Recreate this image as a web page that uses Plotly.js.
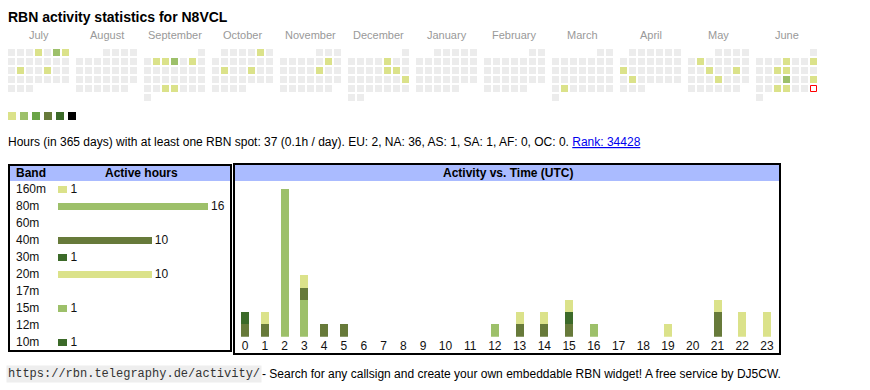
<!DOCTYPE html>
<html><head><meta charset="utf-8">
<script src="https://cdn.plot.ly/plotly-3.0.1.min.js"></script>
<style>html,body{margin:0;padding:0;background:#fff}#chart{width:870px;height:390px}</style>
</head><body><div id="chart"></div>
<script>
// ---------------- data ----------------
const callsign = 'N8VCL';
const monthNames = ['July','August','September','October','November','December','January','February','March','April','May','June'];
const calendarStart = '2024-07-01';
const calendarEnd = '2025-06-30';
const todayDate = '2025-06-29';
const activeDays = ['2024-07-04','2024-07-06','2024-07-07','2024-07-16','2024-07-19',
  '2024-09-03','2024-09-04','2024-09-05','2024-09-07','2024-09-25','2024-09-26',
  '2024-10-05','2024-10-15','2024-10-18',
  '2024-11-09','2024-11-15',
  '2024-12-06','2024-12-13','2024-12-14','2024-12-22',
  '2025-03-25',
  '2025-04-14','2025-04-22',
  '2025-05-06','2025-05-14','2025-05-17','2025-05-22',
  '2025-06-05','2025-06-08','2025-06-11','2025-06-12','2025-06-19','2025-06-22','2025-06-25','2025-06-26'];
const activeLevels = [1,2,1,1,1, 1,1,2,1,1,1, 1,1,1, 1,1, 1,1,1,1, 1, 1,1, 1,1,1,1, 1,1,1,1,2,1,1,1];
const levelColors = ['#ececec','#dbe28a','#9dc06a','#6aa446','#677a3a','#3c6a29','#000000'];

const bands = ['160m','80m','60m','40m','30m','20m','17m','15m','12m','10m'];
const bandHours = [1,16,0,10,1,10,0,1,0,1];
const bandColors = ['#dbe28a','#9dc06a','#9dc06a','#677a3a','#3c6a29','#dbe28a','#dbe28a','#9dc06a','#9dc06a','#3c6a29'];

const hoursUTC = ['0','1','2','3','4','5','6','7','8','9','10','11','12','13','14','15','16','17','18','19','20','21','22','23'];
const hourly160m = [0,0,0,0,0,0,0,0,0,0,0,0,0,0,0,0,0,0,0,0,0,0,1,0];
const hourly80m  = [0,0,12,3,0,0,0,0,0,0,0,0,1,0,0,0,0,0,0,0,0,0,0,0];
const hourly40m  = [1,1,0,1,1,1,0,0,0,0,0,0,0,1,1,1,0,0,0,0,0,2,0,0];
const hourly30m  = [0,0,0,0,0,0,0,0,0,0,0,0,0,0,0,1,0,0,0,0,0,0,0,0];
const hourly20m  = [0,1,0,1,0,0,0,0,0,0,0,0,0,1,1,1,0,0,0,1,0,1,1,2];
const hourly15m  = [0,0,0,0,0,0,0,0,0,0,0,0,0,0,0,0,1,0,0,0,0,0,0,0];
const hourly10m  = [1,0,0,0,0,0,0,0,0,0,0,0,0,0,0,0,0,0,0,0,0,0,0,0];

const statsText = 'Hours (in 365 days) with at least one RBN spot: 37 (0.1h / day). EU: 2, NA: 36, AS: 1, SA: 1, AF: 0, OC: 0. ';
const rankText = 'Rank: 34428';
const footerUrl = 'https://rbn.telegraphy.de/activity/';
const footerText = '- Search for any callsign and create your own embeddable RBN widget! A free service by DJ5CW.';

// ---------------- layout helpers ----------------
const W = 870, H = 390;
const px = x => x / W, py = y => 1 - y / H;
const FONT = 'Liberation Sans, Arial, sans-serif';
const PADL = 2; // annotation inner padding compensation

// ---------------- calendar ----------------
function parseD(s){const a=s.split('-').map(Number);return Date.UTC(a[0],a[1]-1,a[2]);}
function keyOf(dt){return dt.toISOString().slice(0,10);}
const cellPx = 9, blockPx = 68;
const blockPitch = blockPx / cellPx;
const levelByDay = {};
activeDays.forEach((d,i)=>{levelByDay[d]=activeLevels[i];});
const t0 = parseD(calendarStart), t1 = parseD(calendarEnd);
const startDt = new Date(t0);
const calX=[], calY=[], calC=[];
let todayX=null, todayY=null;
for(let t=t0;t<=t1;t+=86400000){
  const dt=new Date(t);
  const y=dt.getUTCFullYear(), mo=dt.getUTCMonth(), d=dt.getUTCDate();
  const mIdx=(y-startDt.getUTCFullYear())*12+mo-startDt.getUTCMonth();
  const wd=(dt.getUTCDay()+6)%7;
  const firstWd=(new Date(Date.UTC(y,mo,1)).getUTCDay()+6)%7;
  const row=Math.floor((d-1+firstWd)/7);
  const k=keyOf(dt);
  const cx=mIdx*blockPitch+wd;
  if(k===todayDate){todayX=cx;todayY=row;continue;}
  calX.push(cx); calY.push(row); calC.push(levelColors[levelByDay[k]||0]);
}
const calTrace={type:'scatter',mode:'markers',x:calX,y:calY,xaxis:'x',yaxis:'y',
  marker:{symbol:'square',size:7,color:calC,line:{width:0}},hoverinfo:'skip'};
const todayTrace={type:'scatter',mode:'markers',x:[todayX],y:[todayY],xaxis:'x',yaxis:'y',
  marker:{symbol:'square',size:6,color:'#ffffff',line:{width:1,color:'#ff0000'}},hoverinfo:'skip'};
// colour scale swatches
const swX = levelColors.slice(1).map((c,i)=>(12+12*i-11.5)/cellPx);
const swY = levelColors.slice(1).map(()=> (116-52.5)/cellPx);
const swatchTrace={type:'scatter',mode:'markers',x:swX,y:swY,xaxis:'x',yaxis:'y',
  marker:{symbol:'square',size:8,color:levelColors.slice(1),line:{width:0}},hoverinfo:'skip'};

// ---------------- band table ----------------
const bandTrace={type:'bar',orientation:'h',x:bandHours,y:bands,xaxis:'x2',yaxis:'y2',
  width:7/17,marker:{color:bandColors,line:{width:0}},
  text:bandHours.map(v=>v?String(v):''),textposition:'outside',constraintext:'none',
  textfont:{family:FONT,size:12,color:'#111'},cliponaxis:false,hoverinfo:'skip'};

// ---------------- activity vs time ----------------
const colW = hoursUTC.map(l=>l.length===1?20:25);
const hourX=[]; let acc=0;
colW.forEach(w=>{hourX.push(acc+w/2);acc+=w;});
const s3=(767-245)/(hourX[23]-hourX[0]);
const x3range=[hourX[0]-(245-236)/s3, hourX[0]+(779-245)/s3];
const barW=8/s3;
const hourSeries=[[hourly160m,'#dbe28a'],[hourly80m,'#9dc06a'],[hourly40m,'#677a3a'],[hourly30m,'#3c6a29'],
  [hourly20m,'#dbe28a'],[hourly15m,'#9dc06a'],[hourly10m,'#3c6a29']];
const hourTraces=hourSeries.map(([arr,col])=>({type:'bar',x:hourX,y:arr,xaxis:'x3',yaxis:'y3',width:barW,
  marker:{color:col,line:{width:0}},hoverinfo:'skip'}));

// ---------------- annotations ----------------
const ann=[];
ann.push({text:'<b>RBN activity statistics for '+callsign+'</b>',x:px(8-PADL),y:py(17),xref:'paper',yref:'paper',
  xanchor:'left',yanchor:'middle',showarrow:false,font:{family:FONT,size:14,color:'#000'}});
monthNames.forEach((m,i)=>ann.push({text:m,x:i*blockPitch+3,y:py(35),xref:'x',yref:'paper',xanchor:'center',yanchor:'middle',
  showarrow:false,font:{family:FONT,size:11,color:'#999'}}));
ann.push({text:statsText+'<a href="https://rbn.telegraphy.de/activity/'+callsign+'"><span style="color:#0000ee"><u>'+rankText+'</u></span></a>',
  x:px(8-PADL),y:py(142),xref:'paper',yref:'paper',xanchor:'left',yanchor:'middle',showarrow:false,font:{family:FONT,size:12,color:'#000'}});
ann.push({text:'<b>Band</b>',x:px(16-PADL),y:py(173),xref:'paper',yref:'paper',xanchor:'left',yanchor:'middle',showarrow:false,font:{family:FONT,size:12,color:'#000'}});
ann.push({text:'<b>Active hours</b>',x:px(141.5),y:py(173),xref:'paper',yref:'paper',xanchor:'center',yanchor:'middle',showarrow:false,font:{family:FONT,size:12,color:'#000'}});
ann.push({text:'<b>Activity vs. Time (UTC)</b>',x:px(508),y:py(173),xref:'paper',yref:'paper',xanchor:'center',yanchor:'middle',showarrow:false,font:{family:FONT,size:12,color:'#000'}});
bands.forEach(b=>ann.push({text:b,x:px(16-PADL),y:b,xref:'paper',yref:'y2',xanchor:'left',yanchor:'middle',showarrow:false,font:{family:FONT,size:12,color:'#111'}}));
ann.push({text:footerUrl,x:px(8-PADL),y:py(374),xref:'paper',yref:'paper',xanchor:'left',yanchor:'middle',showarrow:false,
  bgcolor:'#eeeeee',borderpad:1,font:{family:'Liberation Mono, DejaVu Sans Mono, monospace',size:12,color:'#333'}});
ann.push({text:footerText,x:px(262-PADL),y:py(374),xref:'paper',yref:'paper',xanchor:'left',yanchor:'middle',showarrow:false,font:{family:FONT,size:12,color:'#000'}});

// ---------------- shapes ----------------
const shapes=[
  {type:'rect',xref:'paper',yref:'paper',x0:px(10),x1:px(230),y0:py(166),y1:py(181),fillcolor:'#aabbff',line:{width:0}},
  {type:'rect',xref:'paper',yref:'paper',x0:px(235),x1:px(779),y0:py(165),y1:py(181),fillcolor:'#aabbff',line:{width:0}},
  {type:'rect',xref:'paper',yref:'paper',x0:px(9),x1:px(231),y0:py(165),y1:py(351),line:{width:2,color:'#000'}},
  {type:'rect',xref:'paper',yref:'paper',x0:px(234),x1:px(780),y0:py(164),y1:py(354),line:{width:2,color:'#000'}}
];

const hidden={visible:false,showgrid:false,zeroline:false,fixedrange:true};
const layout={
  width:W,height:H,margin:{l:0,r:0,t:0,b:0},paper_bgcolor:'#fff',plot_bgcolor:'rgba(0,0,0,0)',
  showlegend:false,hovermode:false,barmode:'stack',font:{family:FONT,size:12,color:'#000'},
  xaxis:Object.assign({},hidden,{domain:[0,1],range:[-11.5/cellPx,(W-11.5)/cellPx]}),
  yaxis:Object.assign({},hidden,{domain:[0,1],range:[(H-52.5)/cellPx,-52.5/cellPx]}),
  xaxis2:Object.assign({},hidden,{domain:[px(58),px(228)],range:[0,170/9.375],anchor:'y2'}),
  yaxis2:Object.assign({},hidden,{domain:[py(350.8),py(180.8)],type:'category',categoryarray:bands,categoryorder:'array',range:[9.5,-0.5],anchor:'x2'}),
  xaxis3:{domain:[px(236),px(779)],range:x3range,anchor:'y3',showgrid:false,zeroline:false,showline:false,ticks:'',
    tickmode:'array',tickvals:hourX,ticktext:hoursUTC,tickfont:{family:FONT,size:12,color:'#111'},fixedrange:true},
  yaxis3:Object.assign({},hidden,{domain:[py(336.7),py(181)],range:[0,(336.7-181)/12.3],anchor:'x3'}),
  annotations:ann,shapes:shapes
};
Plotly.newPlot('chart',[calTrace,todayTrace,swatchTrace,bandTrace].concat(hourTraces),layout,{displayModeBar:false,staticPlot:true});
</script></body></html>
